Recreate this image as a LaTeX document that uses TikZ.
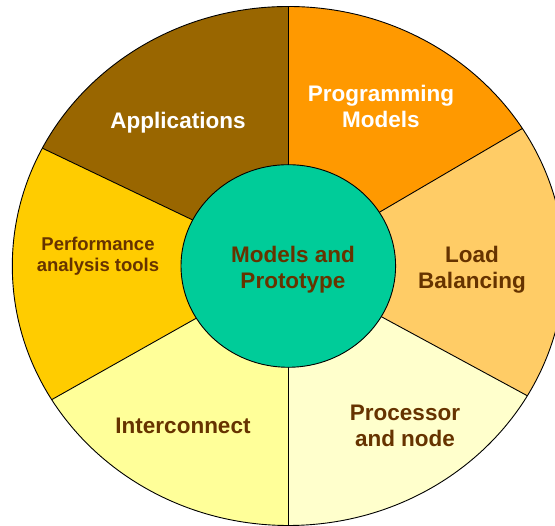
\documentclass[tikz,border=0pt]{standalone}
\usepackage{fontspec}
\setmainfont{Liberation Sans}
\usetikzlibrary{calc}
\definecolor{cApp}{HTML}{996600}
\definecolor{cProg}{HTML}{FF9900}
\definecolor{cLoad}{HTML}{FFCC66}
\definecolor{cProc}{HTML}{FFFFCC}
\definecolor{cInter}{HTML}{FFFF99}
\definecolor{cPerf}{HTML}{FFCC00}
\definecolor{cCore}{HTML}{00CC99}
\definecolor{cText}{HTML}{663300}
\tikzset{
  big/.style={font=\bfseries\fontsize{22.5}{26}\selectfont, align=center, inner sep=0pt},
  small/.style={font=\bfseries\fontsize{18.5}{21.5}\selectfont, align=center, inner sep=0pt},
  divider/.style={draw=black, line width=0.9pt},
}
\begin{document}
\begin{tikzpicture}[x=1pt,y=1pt]
\clip (0,0) rectangle (555,526);
\fill[white] (0,0) rectangle (555,526);
\coordinate (C) at (288.3,260);
\def\rx{276}\def\ry{259.5}
\def\ix{107.3}\def\iy{101.3}
% sectors
\fill[cProg]  (C) -- ($(C)+(32:\rx pt and \ry pt)$)  arc[start angle=32, end angle=90, x radius=\rx, y radius=\ry] -- cycle;
\fill[cApp]   (C) -- ($(C)+(90:\rx pt and \ry pt)$)  arc[start angle=90, end angle=153, x radius=\rx, y radius=\ry] -- cycle;
\fill[cPerf]  (C) -- ($(C)+(153:\rx pt and \ry pt)$) arc[start angle=153, end angle=211, x radius=\rx, y radius=\ry] -- cycle;
\fill[cInter] (C) -- ($(C)+(211:\rx pt and \ry pt)$) arc[start angle=211, end angle=270, x radius=\rx, y radius=\ry] -- cycle;
\fill[cProc]  (C) -- ($(C)+(270:\rx pt and \ry pt)$) arc[start angle=270, end angle=330, x radius=\rx, y radius=\ry] -- cycle;
\fill[cLoad]  (C) -- ($(C)+(330:\rx pt and \ry pt)$) arc[start angle=330, end angle=392, x radius=\rx, y radius=\ry] -- cycle;
% dividers
\foreach \a in {32,90,153,211,270,330}
  \draw[divider] ($(C)+(\a:\ix pt and \iy pt)$) -- ($(C)+(\a:\rx pt and \ry pt)$);
% outer outline
\draw[line width=0.9pt] (C) ellipse [x radius=\rx, y radius=\ry];
% core
\draw[fill=cCore, line width=0.9pt] (C) ellipse [x radius=\ix, y radius=\iy];
% labels
\node[big, text=white]  (app)   at (178,403.5)   {Applications};
\node[big, text=white]  (prog)  at (381,419.4)   {Programming\\Models};
\node[small, text=cText] (perf) at (98,269.7)    {Performance\\analysis tools};
\node[big, text=cText]  (core)  at (293,256.1)   {Models and\\Prototype};
\node[big, text=cText]  (load)  at (472,255.8)   {Load\\Balancing};
\node[big, text=cText]  (inter) at (183,100.3)   {Interconnect};
\node[big, text=cText]  (proc)  at (405,100)     {Processor\\and node};
\end{tikzpicture}
\end{document}
